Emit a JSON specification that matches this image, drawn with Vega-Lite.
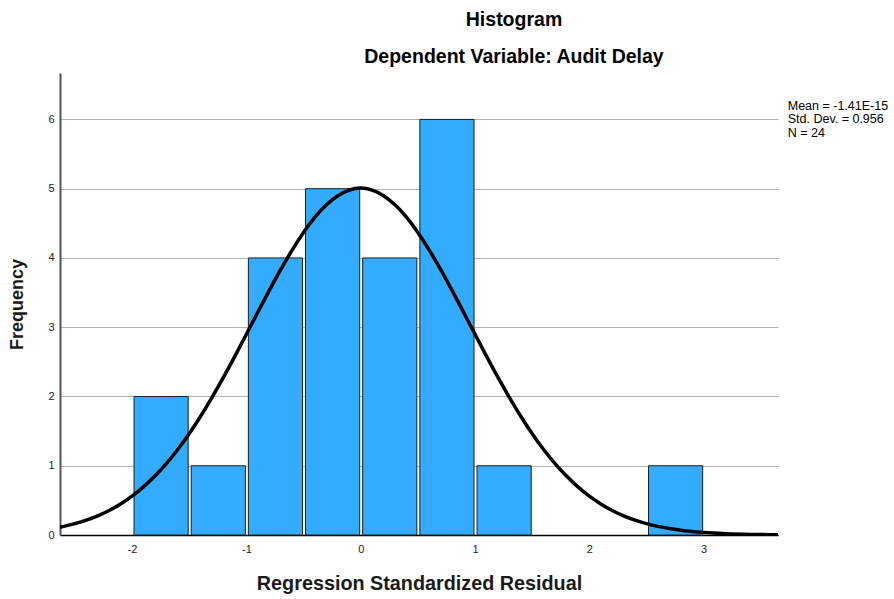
{
  "$schema": "https://vega.github.io/schema/vega-lite/v6.json",
  "width": 718,
  "height": 462,
  "autosize": "none",
  "padding": {"left": 60, "top": 73, "right": 116, "bottom": 64},
  "background": "white",
  "config": {
    "view": {"stroke": null},
    "font": "Liberation Sans"
  },
  "title": {
    "text": "Histogram",
    "subtitle": "Dependent Variable: Audit Delay",
    "anchor": "middle",
    "dx": 95,
    "offset": 6,
    "font": "Liberation Sans",
    "fontSize": 19.5,
    "fontWeight": "bold",
    "color": "#000000",
    "subtitleFont": "Liberation Sans",
    "subtitleFontSize": 19.5,
    "subtitleFontWeight": "bold",
    "subtitleColor": "#000000",
    "subtitlePadding": 17
  },
  "datasets": {
    "bars": [
      {"bin_start": -2.0, "bin_end": -1.5, "count": 2},
      {"bin_start": -1.5, "bin_end": -1.0, "count": 1},
      {"bin_start": -1.0, "bin_end": -0.5, "count": 4},
      {"bin_start": -0.5, "bin_end": 0.0, "count": 5},
      {"bin_start": 0.0, "bin_end": 0.5, "count": 4},
      {"bin_start": 0.5, "bin_end": 1.0, "count": 6},
      {"bin_start": 1.0, "bin_end": 1.5, "count": 1},
      {"bin_start": 2.5, "bin_end": 3.0, "count": 1}
    ],
    "curve": [
      {"x": -2.63, "y": 0.112},
      {"x": -2.5, "y": 0.164},
      {"x": -2.4, "y": 0.214},
      {"x": -2.3, "y": 0.277},
      {"x": -2.2, "y": 0.354},
      {"x": -2.1, "y": 0.449},
      {"x": -2.0, "y": 0.561},
      {"x": -1.9, "y": 0.695},
      {"x": -1.8, "y": 0.851},
      {"x": -1.7, "y": 1.030},
      {"x": -1.6, "y": 1.234},
      {"x": -1.5, "y": 1.462},
      {"x": -1.4, "y": 1.714},
      {"x": -1.3, "y": 1.987},
      {"x": -1.2, "y": 2.278},
      {"x": -1.1, "y": 2.583},
      {"x": -1.0, "y": 2.898},
      {"x": -0.9, "y": 3.215},
      {"x": -0.8, "y": 3.528},
      {"x": -0.7, "y": 3.830},
      {"x": -0.6, "y": 4.112},
      {"x": -0.5, "y": 4.368},
      {"x": -0.4, "y": 4.588},
      {"x": -0.3, "y": 4.767},
      {"x": -0.2, "y": 4.899},
      {"x": -0.1, "y": 4.980},
      {"x": 0.0, "y": 5.008},
      {"x": 0.1, "y": 4.980},
      {"x": 0.2, "y": 4.899},
      {"x": 0.3, "y": 4.767},
      {"x": 0.4, "y": 4.588},
      {"x": 0.5, "y": 4.368},
      {"x": 0.6, "y": 4.112},
      {"x": 0.7, "y": 3.830},
      {"x": 0.8, "y": 3.528},
      {"x": 0.9, "y": 3.215},
      {"x": 1.0, "y": 2.898},
      {"x": 1.1, "y": 2.583},
      {"x": 1.2, "y": 2.278},
      {"x": 1.3, "y": 1.987},
      {"x": 1.4, "y": 1.714},
      {"x": 1.5, "y": 1.462},
      {"x": 1.6, "y": 1.234},
      {"x": 1.7, "y": 1.030},
      {"x": 1.8, "y": 0.851},
      {"x": 1.9, "y": 0.695},
      {"x": 2.0, "y": 0.561},
      {"x": 2.1, "y": 0.449},
      {"x": 2.2, "y": 0.354},
      {"x": 2.3, "y": 0.277},
      {"x": 2.4, "y": 0.214},
      {"x": 2.5, "y": 0.164},
      {"x": 2.6, "y": 0.124},
      {"x": 2.7, "y": 0.093},
      {"x": 2.8, "y": 0.069},
      {"x": 2.9, "y": 0.050},
      {"x": 3.0, "y": 0.036},
      {"x": 3.2, "y": 0.019},
      {"x": 3.4, "y": 0.009},
      {"x": 3.65, "y": 0.003}
    ],
    "stats": [
      {"label": ["Mean = -1.41E-15", "Std. Dev. = 0.956", "N = 24"], "px": 3.735, "py": 6.2}
    ]
  },
  "layer": [
    {
      "data": {"name": "bars"},
      "mark": {"type": "bar", "color": "#33ABFF", "stroke": "#1e1e1e", "strokeWidth": 1, "binSpacing": 3},
      "encoding": {
        "x": {
          "field": "bin_start",
          "type": "quantitative",
          "bin": "binned",
          "scale": {"domain": [-2.63, 3.65], "nice": false, "zero": false},
          "axis": {
            "values": [-2, -1, 0, 1, 2, 3],
            "labelExpr": "'' + datum.value",
            "title": "Regression Standardized Residual",
            "titleFont": "Liberation Sans",
            "titleFontSize": 19.8,
            "titleFontWeight": "bold",
            "titleColor": "#1a1a1a",
            "titlePadding": 19,
            "labelFont": "Liberation Sans",
            "labelFontSize": 11,
            "labelColor": "#222222",
            "labelPadding": 8,
            "ticks": false,
            "grid": false,
            "domainColor": "#000000",
            "domainWidth": 1.5
          }
        },
        "x2": {"field": "bin_end"},
        "y": {
          "field": "count",
          "type": "quantitative",
          "scale": {"domain": [0, 6.67], "nice": false},
          "axis": {
            "values": [0, 1, 2, 3, 4, 5, 6],
            "labelExpr": "'' + datum.value",
            "title": "Frequency",
            "titleFont": "Liberation Sans",
            "titleFontSize": 18,
            "titleFontWeight": "bold",
            "titleColor": "#1a1a1a",
            "titlePadding": 21,
            "labelFont": "Liberation Sans",
            "labelFontSize": 11,
            "labelColor": "#222222",
            "labelPadding": 6,
            "ticks": false,
            "grid": true,
            "gridColor": "#b4b4b4",
            "gridWidth": 1,
            "domainColor": "#555555",
            "domainWidth": 2
          }
        }
      }
    },
    {
      "data": {"name": "curve"},
      "mark": {"type": "line", "color": "#000000", "strokeWidth": 3.5, "interpolate": "monotone", "clip": true},
      "encoding": {
        "x": {"field": "x", "type": "quantitative"},
        "y": {"field": "y", "type": "quantitative"}
      }
    },
    {
      "data": {"name": "stats"},
      "mark": {"type": "text", "align": "left", "baseline": "middle", "fontSize": 12.5, "lineHeight": 13.5, "font": "Liberation Sans", "color": "#000000"},
      "encoding": {
        "x": {"field": "px", "type": "quantitative"},
        "y": {"field": "py", "type": "quantitative"},
        "text": {"field": "label"}
      }
    }
  ]
}
